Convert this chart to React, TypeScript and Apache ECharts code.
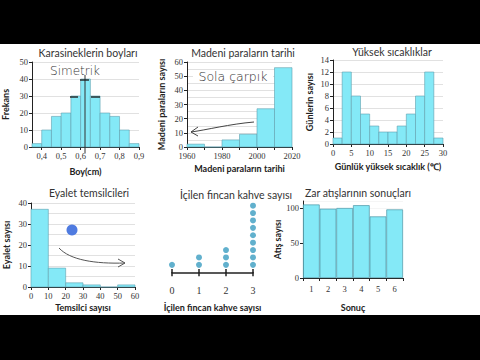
import React, { useEffect, useRef } from 'react';
import * as echarts from 'echarts';

const flyEdges = [0.35, 0.4, 0.45, 0.5, 0.55, 0.6, 0.65, 0.7, 0.75, 0.8, 0.85, 0.9];
const flyCounts = [2, 10, 18, 20, 30, 40, 30, 20, 18, 10, 2];
const flyTicks = [0.4, 0.5, 0.6, 0.7, 0.8, 0.9];

const coinEdges = [1960, 1970, 1980, 1990, 2000, 2010, 2020];
const coinCounts = [2, 0, 5, 9, 27, 56];
const coinLabels = [1960, 1980, 2000, 2020];

const tempEdges = [0, 2.5, 5, 7.5, 10, 12.5, 15, 17.5, 20, 22.5, 25, 27.5, 30];
const tempCounts = [1, 12, 8, 5, 3, 2, 2, 3, 5, 8, 12, 1];

const repEdges = [0, 10, 20, 30, 40, 50, 60];
const repCounts = [37, 9, 2, 1, 0, 1];

const coffeeValues = [0, 1, 2, 3];
const coffeeCounts = [1, 2, 3, 9];

const diceFaces = ['1', '2', '3', '4', '5', '6'];
const diceCounts = [105, 99, 100, 104, 88, 98];

const titles = [
  { text: 'Karasineklerin boyları', x: 88, y: 53 },
  { text: 'Madeni paraların tarihi', x: 243, y: 53 },
  { text: 'Yüksek sıcaklıklar', x: 392, y: 52 },
  { text: 'Eyalet temsilcileri', x: 89, y: 193 },
  { text: 'İçilen fincan kahve sayısı', x: 236, y: 195 },
  { text: 'Zar atışlarının sonuçları', x: 358, y: 193 },
];

const FILL = '#84e9f7';
const EDGE = '#5f9fae';
const AX = '#222';
const NUMFONT = 'Liberation Serif';
const SANS = 'Lato';

function hist(idx: number, edges: number[], counts: number[]) {
  const data = counts.map((c, i) => [edges[i], edges[i + 1], c]);
  return {
    type: 'custom',
    xAxisIndex: idx,
    yAxisIndex: idx,
    data,
    encode: { x: [0, 1], y: 2 },
    renderItem: (_p: any, api: any) => {
      const a = api.coord([api.value(0), api.value(2)]);
      const b = api.coord([api.value(1), 0]);
      return {
        type: 'rect',
        shape: { x: a[0], y: a[1], width: b[0] - a[0], height: b[1] - a[1] },
        style: { fill: FILL, stroke: EDGE, lineWidth: 0.6 },
      };
    },
  };
}

const axisLine = { show: true, lineStyle: { color: AX, width: 1 } };
const axisTick = { show: true, length: 3, lineStyle: { color: AX } };
const axisLabel = { fontFamily: NUMFONT, fontSize: 8.5, color: '#333', margin: 4, formatter: (v: any) => String(v) };
const nameStyle = { fontFamily: SANS, fontWeight: 'bold', fontSize: 9, color: '#222' };
const grid = { show: true, lineStyle: { color: '#d9d9d9', width: 0.8 } };

function xVal(idx: number, min: number, max: number, interval: number, name: string, gap: number, extra: any = {}) {
  return {
    type: 'value', gridIndex: idx, min, max, interval, name, nameLocation: 'middle', nameGap: gap,
    nameTextStyle: nameStyle, axisLine, axisTick, axisLabel, splitLine: { show: false }, ...extra,
  };
}
function yVal(idx: number, min: number, max: number, interval: number, name: string, gap: number, extra: any = {}) {
  return {
    type: 'value', gridIndex: idx, min, max, interval, name, nameLocation: 'middle', nameGap: gap,
    nameTextStyle: nameStyle, axisLine, axisTick, axisLabel, splitLine: grid, ...extra,
  };
}

export default function App() {
  const ref = useRef<HTMLDivElement>(null);
  useEffect(() => {
    if (!ref.current) return;
    const chart = echarts.init(ref.current, undefined, { renderer: 'svg' });
    const dotData: number[][] = [];
    coffeeValues.forEach((v, i) => {
      for (let k = 1; k <= coffeeCounts[i]; k++) dotData.push([v, k]);
    });
    const hand = { fill: '#333', fontFamily: 'DejaVu Sans', fontSize: 12, fontWeight: 'lighter' };
    const option: any = {
      animation: false,
      backgroundColor: '#fff',
      grid: [
        { left: 30, top: 62, width: 109, height: 85 },
        { left: 187, top: 62, width: 105, height: 85 },
        { left: 333, top: 60, width: 110, height: 84 },
        { left: 31, top: 203, width: 104, height: 84 },
        { left: 172, top: 199, width: 81, height: 74 },
        { left: 303, top: 201, width: 100, height: 77 },
      ],
      xAxis: [
        xVal(0, 0.35, 0.9, 0.05, 'Boy(cm)', 20, {
          axisTick: { ...axisTick, customValues: flyTicks },
          axisLabel: { ...axisLabel, customValues: flyTicks, formatter: (v: number) => v.toFixed(1).replace('.', ',') },
        }),
        xVal(1, 1960, 2020, 10, 'Madeni paraların tarihi', 17, {
          axisLabel: { ...axisLabel, customValues: coinLabels },
        }),
        xVal(2, 0, 30, 5, 'Günlük yüksek sıcaklık (℃)', 18),
        xVal(3, 0, 60, 10, 'Temsilci sayısı', 16),
        xVal(4, 0, 3, 1, 'İçilen fincan kahve sayısı', 30, {
          axisLine: { show: true, lineStyle: { color: AX, width: 1.5 } },
          axisTick: { show: true, length: 4, lineStyle: { color: AX, width: 1.5 } },
          axisLabel: { ...axisLabel, fontSize: 10, margin: 12 },
        }),
        {
          type: 'category', gridIndex: 5, data: diceFaces, name: 'Sonuç', nameLocation: 'middle', nameGap: 25,
          nameTextStyle: nameStyle, axisLine, axisTick, axisLabel: { ...axisLabel, margin: 6 },
        },
        {
          type: 'value', gridIndex: 4, min: 0, max: 3, interval: 1, position: 'bottom',
          axisLine: { show: false }, axisLabel: { show: false }, splitLine: { show: false },
          axisTick: { show: true, inside: true, length: 4, lineStyle: { color: AX, width: 1.5 } },
        },
      ],
      yAxis: [
        yVal(0, 0, 50, 10, 'Frekans', 22),
        yVal(1, 0, 60, 10, 'Madeni paraların sayısı', 21, {
          minorTick: { show: false, splitNumber: 2 },
          minorSplitLine: { show: true, lineStyle: { color: '#d9d9d9', width: 0.8 } },
        }),
        yVal(2, 0, 14, 2, 'Günlerin sayısı', 19),
        yVal(3, 0, 40, 10, 'Eyalet sayısı', 20, {
          minorTick: { show: false, splitNumber: 2 },
          minorSplitLine: { show: true, lineStyle: { color: '#d9d9d9', width: 0.8 } },
        }),
        { type: 'value', gridIndex: 4, min: -0.1, max: 9.9, show: false },
        yVal(5, 0, 110, 50, 'Atış sayısı', 21, {
          splitLine: { show: true, lineStyle: { color: '#eeeeee', width: 0.6 } },
        }),
      ],
      series: [
        hist(0, flyEdges, flyCounts),
        hist(1, coinEdges, coinCounts),
        hist(2, tempEdges, tempCounts),
        hist(3, repEdges, repCounts),
        {
          type: 'scatter', xAxisIndex: 4, yAxisIndex: 4, data: dotData, symbolSize: 6,
          itemStyle: { color: '#3a9cc0' },
        },
        {
          type: 'bar', xAxisIndex: 5, yAxisIndex: 5, data: diceCounts, barCategoryGap: '0%',
          itemStyle: { color: FILL, borderColor: '#4f95a5', borderWidth: 0.7 },
        },
      ],
      graphic: [
        { type: 'rect', z: 200, shape: { x: 0, y: 0, width: 480, height: 44 }, style: { fill: '#000' } },
        { type: 'rect', z: 200, shape: { x: 0, y: 315, width: 480, height: 45 }, style: { fill: '#000' } },
        ...titles.map((t) => ({
          type: 'text', z: 100, x: t.x, y: t.y,
          style: {
            text: t.text, fill: '#333', fontFamily: SANS, fontSize: 10.5,
            textAlign: 'center', textVerticalAlign: 'middle', align: 'center', verticalAlign: 'middle',
          },
        })),
        // Chart 1 annotations
        { type: 'text', z: 100, x: 75, y: 71, style: { ...hand, text: 'Simetrik', textAlign: 'center', align: 'center', textVerticalAlign: 'middle', verticalAlign: 'middle' } },
        { type: 'line', z: 100, shape: { x1: 85, y1: 75, x2: 85, y2: 153 }, style: { stroke: '#333', lineWidth: 1 } },
        { type: 'line', z: 100, shape: { x1: 70, y1: 97, x2: 78, y2: 97 }, style: { stroke: '#222', lineWidth: 1.4 } },
        { type: 'line', z: 100, shape: { x1: 80, y1: 80, x2: 89, y2: 80 }, style: { stroke: '#222', lineWidth: 1.4 } },
        { type: 'line', z: 100, shape: { x1: 91, y1: 97, x2: 100, y2: 97 }, style: { stroke: '#222', lineWidth: 1.4 } },
        // Chart 2 annotations
        { type: 'rect', z: 90, shape: { x: 193, y: 70, width: 80, height: 13 }, style: { fill: '#fff' } },
        { type: 'text', z: 100, x: 233, y: 76, style: { ...hand, fontSize: 12.5, text: 'Sola çarpık', textAlign: 'center', align: 'center', textVerticalAlign: 'middle', verticalAlign: 'middle' } },
        { type: 'bezierCurve', z: 100, shape: { x1: 254, y1: 122, cpx1: 230, cpy1: 124, cpx2: 206, cpy2: 130, x2: 191, y2: 132 }, style: { stroke: '#444', lineWidth: 1, fill: 'none' } },
        { type: 'polyline', z: 100, shape: { points: [[198, 127], [191, 132], [198, 136]] }, style: { stroke: '#444', lineWidth: 1, fill: 'none' } },
        // Chart 4 annotations
        { type: 'circle', z: 100, shape: { cx: 72, cy: 230, r: 5.5 }, style: { fill: '#4f7be0' } },
        { type: 'bezierCurve', z: 100, shape: { x1: 59, y1: 248, cpx1: 70, cpy1: 260, cpx2: 95, cpy2: 264, x2: 125, y2: 263 }, style: { stroke: '#555', lineWidth: 1, fill: 'none' } },
        { type: 'polyline', z: 100, shape: { points: [[118, 259], [125, 263], [118, 267]] }, style: { stroke: '#555', lineWidth: 1, fill: 'none' } },
      ],
    };
    chart.setOption(option);
    return () => chart.dispose();
  }, []);
  return <div ref={ref} style={{ position: 'fixed', left: 0, top: 0, width: 480, height: 360 }} />;
}
